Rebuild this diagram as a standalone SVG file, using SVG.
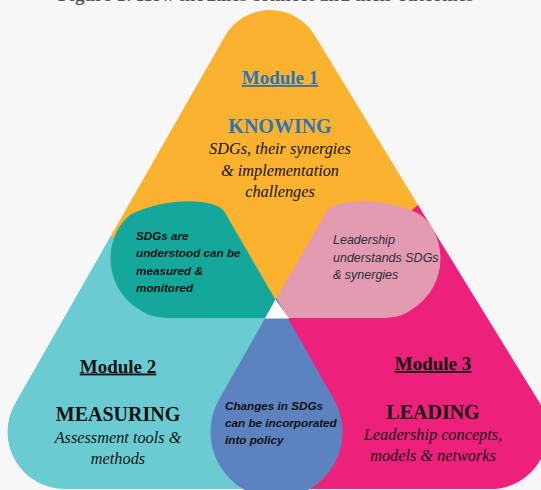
<svg xmlns="http://www.w3.org/2000/svg" width="541" height="490" viewBox="0 0 541 490">
<style>
.serif{font-family:"Liberation Serif","Times New Roman",serif}
.sans{font-family:"Liberation Sans",Arial,sans-serif}
.mod{font-size:19px;font-weight:bold;text-anchor:middle;text-decoration:underline}
.head{font-size:20px;font-weight:bold;text-anchor:middle}
.desc{font-size:16.3px;font-style:italic;text-anchor:middle;fill:#151515}
.pet{font-size:11.7px;font-style:italic;font-weight:bold;fill:#111}
.pet2{font-size:12.5px;font-style:italic;fill:#2d2d3a}
</style>
<rect x="0" y="0" width="541" height="490" fill="#f7f7f7"/>
<text class="serif" x="58" y="0.5" font-size="19" font-weight="bold" fill="#555">Figure 1: How modules connect and their outcomes</text>
<g id="module1">
<path d="M224.9 36.2 A52 52 0 0 1 314.3 34.7 L439.4 240 L276 330 L102.8 250 Z" fill="#fbb22f"/>
</g>
<g id="module2">
<path d="M110.8 236 L15.1 403.4 A57.2 57.2 0 0 0 65.2 489 L276 489 L276 318 L265 318 Z" fill="#6bcbd3"/>
</g>
<g id="module3">
<path d="M417.9 205 L539.2 402.1 A57 57 0 0 1 490.7 489 L276 489 L276 318 L287 318 Z" fill="#ed207b"/>
</g>
<g id="overlap12">
<path d="M286 318 L224 211 C214 198 165 197 130 215 C104 236 101 286 140 310 C148 316 158 318 170 318 Z" fill="#14a89c"/>
</g>
<g id="overlap13">
<path d="M265 318 L327 211 C337 198 386 197 421 215 C447 236 450 286 411 310 C403 316 393 318 381 318 Z" fill="#e29bb1"/>
</g>
<g id="overlap23">
<path d="M276.5 298 L219 399.5 A66 66 0 1 0 334 399.5 Z" fill="#5c82bf"/>
</g>
<path d="M275.5 299.5 L265 318.5 L289 318.5 Z" fill="#ffffff"/>
<g id="connectors"></g>
<g id="labels1">
<text class="serif mod" x="280" y="84" fill="#2e74b5">Module 1</text>
<text class="serif head" x="280" y="132.5" fill="#2e74b5">KNOWING</text>
<text class="serif desc" x="280" y="154">SDGs, their synergies</text>
<text class="serif desc" x="280" y="175.5">&amp; implementation</text>
<text class="serif desc" x="280" y="197">challenges</text>
</g>
<g id="labels2">
<text class="serif mod" x="118" y="372.5" fill="#111">Module 2</text>
<text class="serif head" x="118" y="420.5" fill="#111">MEASURING</text>
<text class="serif desc" x="118" y="442.5">Assessment tools &amp;</text>
<text class="serif desc" x="118" y="463.5">methods</text>
</g>
<g id="labels3">
<text class="serif mod" x="433" y="370" fill="#111">Module 3</text>
<text class="serif head" x="433" y="418.5" fill="#111">LEADING</text>
<text class="serif desc" x="433" y="440">Leadership concepts,</text>
<text class="serif desc" x="433" y="461">models &amp; networks</text>
</g>
<g id="labels12">
<text class="sans pet" x="136" y="239.5">SDGs are</text>
<text class="sans pet" x="136" y="257">understood can be</text>
<text class="sans pet" x="136" y="274.5">measured &amp;</text>
<text class="sans pet" x="136" y="292">monitored</text>
</g>
<g id="labels13">
<text class="sans pet2" x="333" y="244">Leadership</text>
<text class="sans pet2" x="333" y="261.5">understands SDGs</text>
<text class="sans pet2" x="333" y="279">&amp; synergies</text>
</g>
<g id="labels23">
<text class="sans pet" x="225" y="409.5">Changes in SDGs</text>
<text class="sans pet" x="225" y="426.5">can be incorporated</text>
<text class="sans pet" x="225" y="443.5">into policy</text>
</g>
</svg>
